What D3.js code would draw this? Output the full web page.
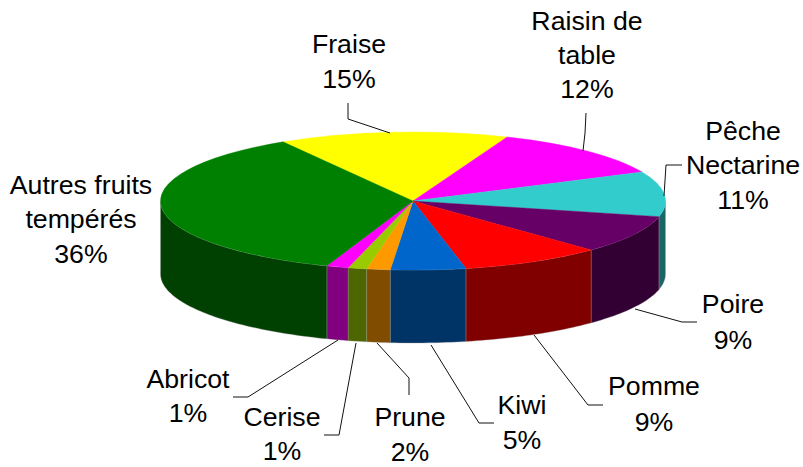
<!DOCTYPE html>
<html><head><meta charset="utf-8">
<script src="https://cdn.jsdelivr.net/npm/d3@7"></script>
<style>html,body{margin:0;background:#fff}svg{display:block}text{font-family:"Liberation Sans",Arial,sans-serif;font-size:26.7px;fill:#000}</style>
</head><body><script>
const categories=["Fraise","Raisin de table","Pêche Nectarine","Poire","Pomme","Kiwi","Prune","Cerise","Abricot","Autres fruits tempérés"];
const shownPercent=[15,12,11,9,9,5,2,1,1,36];
const values=[14.7,12.0,10.55,8.9,9.1,4.8,1.5,1.2,1.4,35.85];
const topColors=["#FFFF00","#FF00FF","#33CCCC","#660066","#FF0000","#0066CC","#FF9900","#99CC00","#FF00FF","#008000"];
const wallColors=["#808000","#800080","#1A6666","#330033","#800000","#003366","#804D00","#4D6600","#800080","#004000"];

// layout only
const W=803,H=467,cx=413,cy=201,rx=252.5,ry=69,depth=73,startDeg=-31;
const labelLayout=[
 {x:349,ys:[53,88],lines:["Fraise"],leader:[[348,103],[348,119],[390,133]]},
 {x:587,ys:[30,64,98],lines:["Raisin de","table"],leader:[[586,113],[585,133],[583,151]]},
 {x:743,ys:[140,174,209],lines:["Pêche","Nectarine"],leader:[[664,196],[666,165],[682,165]]},
 {x:733,ys:[313,349],lines:["Poire"],leader:[[635,309],[682,322],[697,322]]},
 {x:654,ys:[395,431],lines:["Pomme"],leader:[[534,335],[588,405],[603,405]]},
 {x:522,ys:[414,449],lines:["Kiwi"],leader:[[431,345],[479,423],[494,423]]},
 {x:410,ys:[426,461],lines:["Prune"],leader:[[377,343],[409,378],[409,395]]},
 {x:282,ys:[426,460],lines:["Cerise"],leader:[[356,343],[339,435],[324,435]]},
 {x:188,ys:[388,422],lines:["Abricot"],leader:[[338,340],[248,397],[233,397]]},
 {x:81,ys:[194,228,263],lines:["Autres fruits","tempérés"],leader:null}
];

const svg=d3.select("body").append("svg").attr("width",W).attr("height",H);
const pie=d3.pie().sort(null).startAngle(startDeg*Math.PI/180).endAngle((startDeg+360)*Math.PI/180);
const arcs=pie(values);
const sx=d3.scaleLinear().domain([-1,1]).range([cx-rx,cx+rx]);
const sy=d3.scaleLinear().domain([-1,1]).range([cy-ry,cy+ry]);
const wallLine=d3.line();

// walls: only the front half of the ellipse (PI/2 .. 3PI/2, clockwise from the top)
function wallPath(a0,a1){
  const n=Math.max(2,Math.ceil((a1-a0)/0.02));
  const ang=d3.range(n+1).map(i=>a0+(a1-a0)*i/n);
  const top=ang.map(t=>[sx(Math.sin(t)),sy(-Math.cos(t))]);
  const bot=top.map(p=>[p[0],p[1]+depth]).reverse();
  return wallLine(top.concat(bot))+"Z";
}
const g=svg.append("g");
arcs.forEach((d,i)=>{
  for(const off of [-2*Math.PI,0,2*Math.PI]){
    const a0=Math.max(d.startAngle+off,Math.PI/2),a1=Math.min(d.endAngle+off,3*Math.PI/2);
    if(a1>a0) g.append("path").attr("d",wallPath(a0,a1)).attr("fill",wallColors[i])
      .attr("stroke","#9a9a9a").attr("stroke-opacity",.55).attr("stroke-width",.6);
  }
});
// top
const arc=d3.arc().innerRadius(0).outerRadius(1);
const topG=g.append("g").attr("transform",`translate(${cx},${cy}) scale(${rx},${ry})`);
topG.selectAll("path").data(arcs).join("path").attr("d",arc)
  .attr("fill",(d,i)=>topColors[i]).attr("stroke",(d,i)=>topColors[i])
  .attr("stroke-width",.4).attr("vector-effect","non-scaling-stroke");

// leaders
const leaderLine=d3.line();
svg.append("g").selectAll("path").data(labelLayout.filter(l=>l.leader)).join("path")
  .attr("d",l=>leaderLine(l.leader)).attr("fill","none").attr("stroke","#111").attr("stroke-width",1);

// labels
const lab=svg.append("g").attr("text-anchor","middle");
labelLayout.forEach((l,i)=>{
  const t=lab.append("text");
  l.lines.concat([shownPercent[i]+"%"]).forEach((s,j)=>{
    t.append("tspan").attr("x",l.x).attr("y",l.ys[j]).text(s);
  });
});
</script></body></html>
